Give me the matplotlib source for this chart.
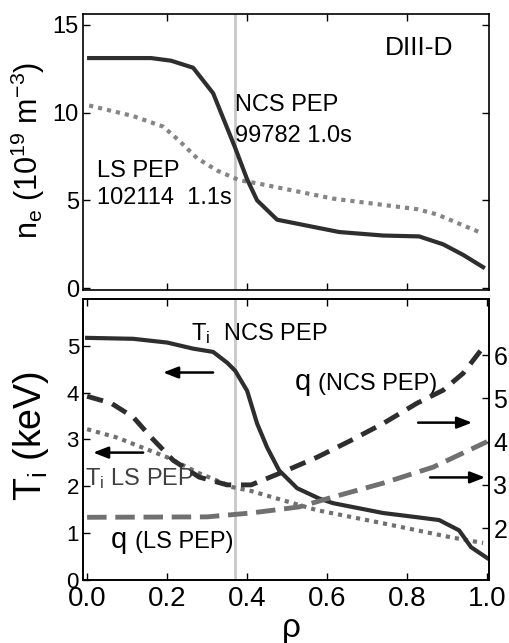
import numpy as np
import matplotlib.pyplot as plt

plt.rcParams['font.family'] = ['Liberation Sans', 'DejaVu Sans']
plt.rcParams['mathtext.fontset'] = 'custom'
plt.rcParams['mathtext.rm'] = 'Liberation Sans'
plt.rcParams['mathtext.it'] = 'Liberation Sans:italic'

# density profiles (top panel)
rho_ne_ncs = [0.005, 0.16, 0.21, 0.265, 0.315, 0.37, 0.40, 0.425, 0.475, 0.63, 0.74, 0.83, 0.89, 0.94, 0.99]
ne_ncs = [13.1, 13.1, 12.95, 12.55, 11.1, 8.0, 6.2, 5.0, 3.9, 3.2, 3.0, 2.95, 2.5, 1.9, 1.2]
rho_ne_ls = [0.005, 0.115, 0.19, 0.23, 0.275, 0.325, 0.38, 0.43, 0.615, 0.825, 0.875, 0.98]
ne_ls = [10.4, 9.8, 9.2, 8.4, 7.4, 6.7, 6.15, 5.95, 5.1, 4.5, 4.2, 3.2]

# ion temperature (bottom panel, left axis)
rho_ti_ncs = [0.0, 0.115, 0.2, 0.265, 0.315, 0.35, 0.37, 0.40, 0.425, 0.45, 0.48, 0.525, 0.58,
              0.615, 0.74, 0.825, 0.88, 0.93, 0.96, 1.0]
ti_ncs = [5.17, 5.15, 5.07, 4.94, 4.87, 4.64, 4.47, 4.04, 3.34, 2.83, 2.34, 1.96, 1.74,
          1.64, 1.43, 1.34, 1.28, 1.06, 0.7, 0.47]
rho_ti_ls = [0.0, 0.075, 0.2, 0.28, 0.365, 0.41, 0.575, 0.74, 0.91, 0.99]
ti_ls = [3.22, 3.04, 2.62, 2.28, 1.98, 1.9, 1.49, 1.21, 0.91, 0.79]

# safety factor (bottom panel, right axis)
rho_q_ncs = [0.0, 0.06, 0.115, 0.16, 0.215, 0.28, 0.35, 0.41, 0.49, 0.575, 0.66, 0.74, 0.825, 0.89, 0.94, 0.99]
q_ncs = [5.05, 4.89, 4.57, 4.10, 3.57, 3.18, 3.0, 3.0, 3.3, 3.64, 4.03, 4.42, 4.89, 5.19, 5.58, 6.18]
rho_q_ls = [0.0, 0.3, 0.41, 0.53, 0.615, 0.74, 0.865, 1.0]
q_ls = [2.25, 2.26, 2.35, 2.49, 2.72, 3.04, 3.41, 4.0]

rho_line = 0.37

dark = '#2e2e2e'
gray = '#858585'
fig = plt.figure(figsize=(5.1, 6.43), dpi=100)
ax1 = fig.add_axes([0.163, 0.549, 0.796, 0.429])
ax2 = fig.add_axes([0.163, 0.098, 0.796, 0.437])

# top panel
ax1.axvline(rho_line, color='#c8c8c8', lw=2)
ax1.plot(rho_ne_ls, ne_ls, color=gray, lw=3, ls=(0, (1, 1.2)))
ax1.plot(rho_ne_ncs, ne_ncs, color=dark, lw=3)
ax1.set_xlim(-0.01, 1.005)
ax1.set_ylim(-0.1, 15.6)
ax1.set_yticks([0, 5, 10, 15])
ax1.set_xticks([0.2, 0.4, 0.6, 0.8])
ax1.tick_params(labelbottom=False, direction='in', length=5, width=1, top=True, right=True,
                labelsize=17, pad=3)
fig.text(28 / 510, 1 - 150 / 643, 'n$_\\mathrm{e}$ (10$^{19}$ m$^{-3}$)', fontsize=22,
         rotation=90, ha='center', va='center')
ax1.text(0.745, 13.7, 'DIII-D', fontsize=19, va='center')
ax1.text(0.37, 10.45, 'NCS PEP', fontsize=17, va='center')
ax1.text(0.37, 8.64, '99782 1.0s', fontsize=17, va='center')
ax1.text(0.025, 6.67, 'LS PEP', fontsize=17, va='center')
ax1.text(0.025, 5.14, '102114  1.1s', fontsize=17, va='center')

# bottom panel
ax2.axvline(rho_line, color='#c8c8c8', lw=2)
ax2.plot(rho_ti_ls, ti_ls, color='#707070', lw=3, ls=(0, (1, 1.2)))
ax2.plot(rho_ti_ncs, ti_ncs, color=dark, lw=3)
ax2.set_xlim(-0.01, 1.005)
ax2.set_ylim(0, 6)
ax2.set_yticks([0, 1, 2, 3, 4, 5])
ax2.set_xticks([0.0, 0.2, 0.4, 0.6, 0.8, 1.0])
ax2.set_xticklabels(['0.0', '0.2', '0.4', '0.6', '0.8', '1.0'])
ax2.tick_params(direction='in', length=5, width=1, top=True, labelsize=16, pad=3)
ax2.tick_params(axis='x', labelsize=20, pad=4)
fig.text(31 / 510, 1 - 436 / 643, 'T$_\\mathrm{i}$ (keV)', fontsize=27,
         rotation=90, ha='center', va='center')
fig.text(291 / 510, 1 - 629 / 643, 'ρ', fontsize=24, ha='center', va='center')

ax3 = ax2.twinx()
ax3.plot(rho_q_ls, q_ls, color='#707070', lw=3.5, ls=(0, (4, 1.8)))
ax3.plot(rho_q_ncs, q_ncs, color=dark, lw=3.5, ls=(0, (3.4, 2)))
ax3.set_ylim(0.8, 7.3)
ax3.set_yticks([2, 3, 4, 5, 6])
ax3.tick_params(direction='in', length=5, width=1, labelsize=18, pad=3)

# annotations
ax2.text(0.26, 5.26, 'T$_\\mathrm{i}$  NCS PEP', fontsize=17, va='center')
ax2.text(0.52, 4.06, 'q', fontsize=21, va='baseline')
ax2.text(0.578, 4.06, '(NCS PEP)', fontsize=17, va='baseline')
ax2.text(-0.005, 2.17, 'T$_\\mathrm{i}$ LS PEP', fontsize=17, va='center', color='#404040')
ax2.text(0.058, 0.68, 'q', fontsize=21, va='baseline')
ax2.text(0.12, 0.68, '(LS PEP)', fontsize=17, va='baseline')

arrow = dict(arrowstyle='-|>,head_length=0.9,head_width=0.35', color='black', lw=1.8,
             shrinkA=0, shrinkB=0)
ax2.annotate('', xy=(0.19, 4.43), xytext=(0.315, 4.43), arrowprops=arrow)
ax2.annotate('', xy=(0.015, 2.72), xytext=(0.14, 2.72), arrowprops=arrow)
ax2.annotate('', xy=(0.9625, 3.36), xytext=(0.8275, 3.36), arrowprops=arrow)
ax2.annotate('', xy=(0.995, 2.19), xytext=(0.8575, 2.19), arrowprops=arrow)

for ax in (ax1, ax2, ax3):
    for s in ax.spines.values():
        s.set_linewidth(1.2)

fig.savefig('out.png', dpi=100)
